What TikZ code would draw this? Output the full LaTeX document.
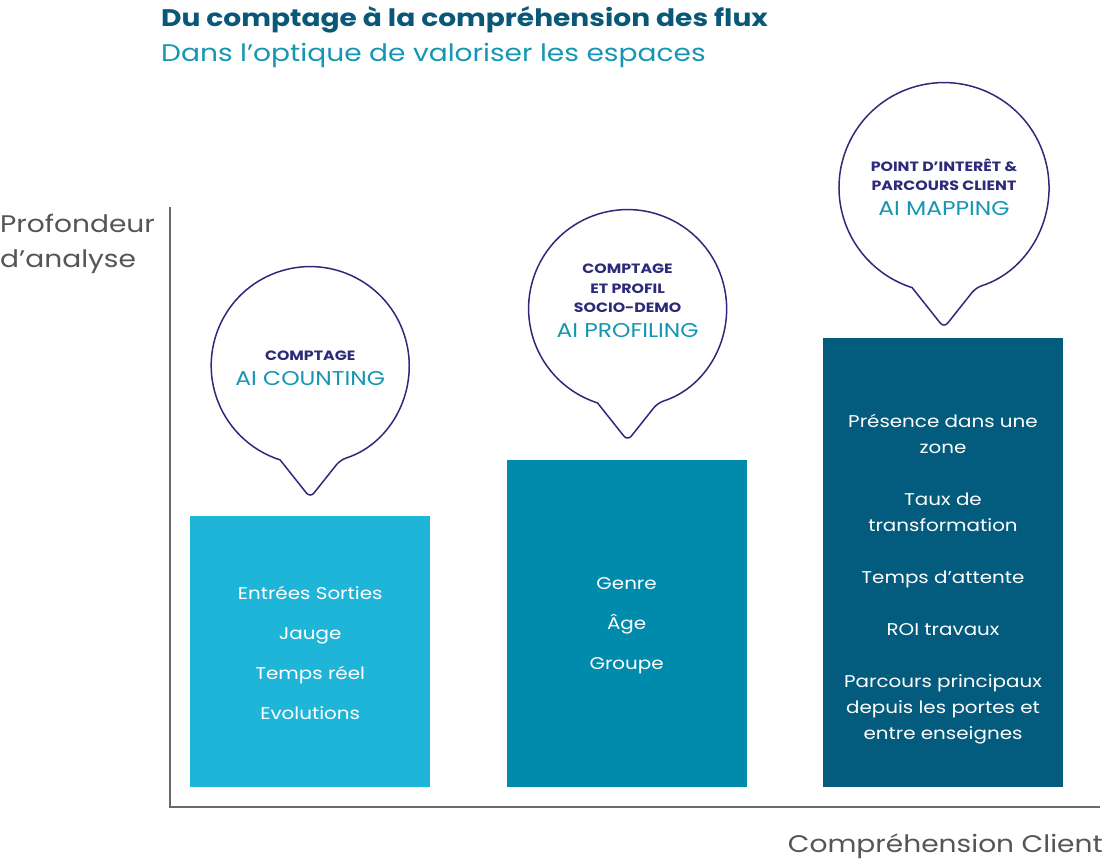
\documentclass[tikz,border=0pt]{standalone}
\usepackage{fontspec}
\setmainfont{Poppins}[FakeStretch=1.17]
\usepackage{tikz}
\usetikzlibrary{positioning, calc}
\usepackage{xcolor}
\definecolor{titleBlue}{RGB}{10, 88, 120}
\definecolor{subTeal}{RGB}{22, 150, 178}
\definecolor{navyLine}{RGB}{45, 42, 122}
\definecolor{axisGray}{RGB}{105, 105, 105}
\definecolor{labelGray}{RGB}{85, 85, 85}
\definecolor{barLight}{RGB}{31, 181, 216}
\definecolor{barMid}{RGB}{0, 138, 172}
\definecolor{barDark}{RGB}{3, 92, 125}

\begin{document}
\begin{tikzpicture}[
        x=1pt, y=1pt,
        node distance=8pt and 76pt,
        axis/.style={draw=axisGray, line width=1.4pt},
        axislabel/.style={text=labelGray, inner sep=0pt, font=\fontsize{24}{35}\selectfont},
        bar/.style={rectangle, minimum width=240pt, inner sep=0pt},
        barlist/.style={text=white, align=center, inner sep=0pt},
        bubble/.style={draw=navyLine, line width=1.5pt, fill=white},
        bubblehead/.style={text=navyLine, align=center, inner sep=1pt, font=\bfseries\fontsize{13.5}{19.5}\selectfont},
        aitext/.style={text=subTeal, inner sep=1pt, font=\fontsize{20}{24}\selectfont}
    ]
        \useasboundingbox (0,0) rectangle (1104,864);
        % titles
        \node[anchor=west, inner sep=0pt, text=titleBlue, font=\bfseries\fontsize{24}{28}\selectfont] (title) at (161,844) {Du comptage à la compréhension des flux};
        \node[anchor=west, inner sep=0pt, text=subTeal, font=\fontsize{24}{28}\selectfont] (subtitle) at (161,808) {Dans l’optique de valoriser les espaces};
        % axes
        \coordinate (origin) at (170,57);
        \coordinate (ytop) at (170,657);
        \coordinate (xend) at (1100,57);
        \draw[axis] (ytop) -- (origin) -- (xend);
        \node[axislabel, anchor=west, align=left] (ylabel) at (0,620) {Profondeur\\d’analyse};
        \node[axislabel, anchor=east] (xlabel) at (1103,18) {Compréhension Client};
        % bars
        \node[bar, fill=barLight, minimum height=271pt, anchor=south west] (countbar) at (190,77) {};
        \node[bar, fill=barMid, minimum height=327pt, right=of countbar.south east, anchor=south west] (profbar) {};
        \node[bar, fill=barDark, minimum height=449pt, right=of profbar.south east, anchor=south west] (mapbar) {};
        \node[barlist, font=\fontsize{17}{40}\selectfont] (countlist) at ($(countbar.center)+(0,-2)$) {Entrées Sorties\\Jauge\\Temps réel\\Evolutions};
        \node[barlist, font=\fontsize{17}{40}\selectfont] (proflist) at ($(profbar.center)+(0,-2)$) {Genre\\Âge\\Groupe};
        \node[barlist, font=\fontsize{17}{26}\selectfont] (maplist) at ($(mapbar.center)+(0,-17)$) {Présence dans une\\zone\\[26pt]Taux de\\transformation\\[26pt]Temps d’attente\\[26pt]ROI travaux\\[26pt]Parcours principaux\\depuis les portes et\\entre enseignes};
        % bubbles
        \coordinate[above=150pt of countbar.north] (counting);
        \coordinate[above=151pt of profbar.north, xshift=1pt] (profiling);
        \coordinate[above=150pt of mapbar.north, xshift=1pt] (mapping);
        \foreach \b/\r in {counting/99, profiling/99, mapping/105}
            \draw[bubble] ($(\b)+(-72.3:\r)$) arc[start angle=-72.3, end angle=252.3, radius=\r]
                [rounded corners=6pt] -- ($(\b)+(0,-1.335*\r)$) -- cycle;
        \node[aitext] (counting-ai) at ($(counting)+(0,-13)$) {AI COUNTING};
        \node[bubblehead, above=of counting-ai] (counting-head) {COMPTAGE};
        \node[aitext] (profiling-ai) at ($(profiling)+(0,-22)$) {AI PROFILING};
        \node[bubblehead, above=of profiling-ai] (profiling-head) {COMPTAGE\\ET PROFIL\\SOCIO-DEMO};
        \node[aitext] (mapping-ai) at ($(mapping)+(0,-21)$) {AI MAPPING};
        \node[bubblehead, above=of mapping-ai] (mapping-head) {POINT D’INTERÊT \&\\PARCOURS CLIENT};
    \end{tikzpicture}
\end{document}
